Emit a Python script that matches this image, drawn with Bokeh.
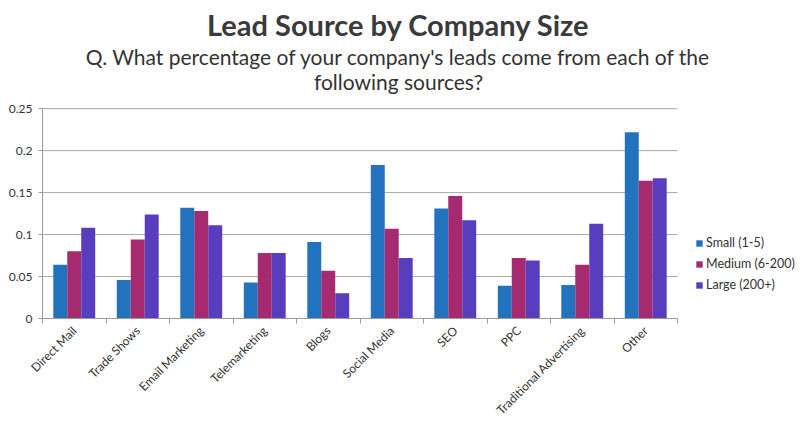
from bokeh.plotting import figure
from bokeh.models import (ColumnDataSource, FixedTicker, NumeralTickFormatter, Legend, LegendItem, Label, Range1d)
from bokeh.embed import file_html
from bokeh.resources import INLINE
import math

categories = ["Direct Mail", "Trade Shows", "Email Marketing", "Telemarketing", "Blogs",
              "Social Media", "SEO", "PPC", "Traditional Advertising", "Other"]
small = [0.064, 0.046, 0.132, 0.043, 0.091, 0.183, 0.131, 0.039, 0.040, 0.222]
medium = [0.080, 0.094, 0.128, 0.078, 0.057, 0.107, 0.146, 0.072, 0.064, 0.164]
large = [0.108, 0.124, 0.111, 0.078, 0.030, 0.072, 0.117, 0.069, 0.113, 0.167]
series_names = ["Small (1-5)", "Medium (6-200)", "Large (200+)"]
colors = ["#2372BD", "#A52A70", "#583EBE"]
y_ticks = [0, 0.05, 0.1, 0.15, 0.2, 0.25]
y_max = 0.25

FONT = "Lato"
W, H = 800, 429
# layout (pixels): plotted area spans x 42..677, y 108..317.5
AX_L, AX_R, AX_T, AX_B = 42, 677, 108, 317.5
n = len(categories)
x_end = n * (W - AX_L) / (AX_R - AX_L)
y_end = y_max * (AX_B - 0) / (AX_B - AX_T)

p = figure(width=W, height=H, output_backend="svg", toolbar_location=None,
           x_range=Range1d(0, x_end), y_range=Range1d(0, y_end),
           min_border_left=AX_L, min_border_right=0, min_border_top=0,
           min_border_bottom=int(H - AX_B))
p.background_fill_color = None
p.border_fill_color = "white"
p.outline_line_color = None

# horizontal grid lines limited to the category area
p.segment(x0=[0] * len(y_ticks), x1=[n] * len(y_ticks), y0=y_ticks, y1=y_ticks,
          line_color="#a8a8a8", line_width=1, level="underlay")

centers = [i + 0.5 for i in range(n)]
bw = 0.22
renderers = []
for k, (vals, c) in enumerate(zip([small, medium, large], colors)):
    xs = [xc + (k - 1) * bw for xc in centers]
    s = ColumnDataSource(dict(x=xs, top=vals))
    r = p.vbar(x="x", top="top", width=bw, source=s, fill_color=c, line_color=None)
    renderers.append(r)

# x axis
p.xaxis.bounds = (0, n)
p.xaxis.ticker = FixedTicker(ticks=centers, minor_ticks=list(range(n + 1)))
p.xaxis.major_label_overrides = {c: lab for c, lab in zip(centers, categories)}
p.xaxis.major_label_orientation = math.pi / 4
p.xaxis.major_tick_line_color = None
p.xaxis.minor_tick_line_color = "#999999"
p.xaxis.minor_tick_out = 5
p.xaxis.minor_tick_in = 0
p.xaxis.axis_line_color = "#999999"
p.xaxis.major_label_text_font = FONT
p.xaxis.major_label_text_font_size = "12px"
p.xaxis.major_label_text_color = "#333333"
p.xaxis.major_label_standoff = 4
p.xgrid.grid_line_color = None

# y axis
p.yaxis.bounds = (0, y_max)
p.yaxis.ticker = FixedTicker(ticks=y_ticks)
p.yaxis.formatter = NumeralTickFormatter(format="0.[00]")
p.yaxis.axis_line_color = "#999999"
p.yaxis.major_tick_line_color = "#999999"
p.yaxis.major_tick_out = 4
p.yaxis.major_tick_in = 0
p.yaxis.minor_tick_line_color = None
p.yaxis.major_label_text_font = FONT
p.yaxis.major_label_text_font_size = "12px"
p.yaxis.major_label_text_color = "#333333"
p.yaxis.major_label_standoff = 6
p.ygrid.grid_line_color = None

# legend (inside the enlarged frame, to the right of the bars)
items = [LegendItem(label=nm, renderers=[r]) for nm, r in zip(series_names, renderers)]
legend = Legend(items=items, location=(653, 23), background_fill_alpha=0, border_line_color=None,
                glyph_width=8, glyph_height=8, label_text_font=FONT, label_text_font_size="12.5px",
                label_text_color="#333333", label_height=21, spacing=0, padding=0, margin=0,
                label_standoff=3)
p.add_layout(legend, "center")

# titles (screen units relative to the frame, origin bottom-left)
cx = 398 - AX_L
p.add_layout(Label(x=cx, y=AX_B - 23, x_units="screen", y_units="screen", text="Lead Source by Company Size",
                   text_font=FONT, text_font_size="29px", text_font_style="bold", text_color="#3a3a3a",
                   text_align="center", text_baseline="middle"))
p.add_layout(Label(x=cx, y=AX_B - 55, x_units="screen", y_units="screen",
                   text="Q. What percentage of your company's leads come from each of the",
                   text_font=FONT, text_font_size="21px", text_color="#333333",
                   text_align="center", text_baseline="middle"))
p.add_layout(Label(x=cx, y=AX_B - 80, x_units="screen", y_units="screen",
                   text="following sources?",
                   text_font=FONT, text_font_size="21px", text_color="#333333",
                   text_align="center", text_baseline="middle"))

open("out.html", "w").write(file_html(p, INLINE))
